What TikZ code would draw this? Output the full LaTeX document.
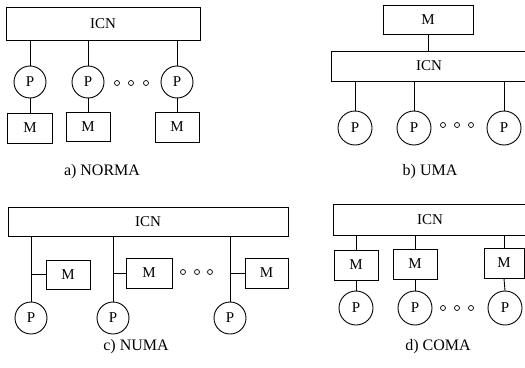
\documentclass[tikz,border=0pt]{standalone}
\usepackage{fontspec}
\setmainfont{Liberation Serif}
\begin{document}
\begin{tikzpicture}[x=1pt,y=-1pt,
  every node/.style={font=\fontsize{15}{17}\selectfont},
  bx/.style={draw, line width=0.9pt, inner sep=0pt},
  pc/.style={draw, circle, line width=0.9pt, inner sep=0pt, minimum size=32pt},
  dt/.style={draw, circle, line width=0.7pt, inner sep=0pt, minimum size=5pt},
  cn/.style={line width=0.9pt},
  lbl/.style={font=\fontsize{16}{18}\selectfont}]
\useasboundingbox (0,0) rectangle (525,367);
\clip (0,0) rectangle (525,367);
% ---------- a) NORMA
\node[bx, minimum width=194pt, minimum height=33pt] (icnA) at (103,23.5) {ICN};
\node[pc] (pA1) at (30,82) {P};
\node[pc] (pA2) at (88,82) {P};
\node[pc] (pA3) at (177,82) {P};
\node[bx, minimum width=45pt, minimum height=30pt] (mA1) at (30,128) {M};
\node[bx, minimum width=44pt, minimum height=29pt] (mA2) at (88,126.5) {M};
\node[bx, minimum width=44pt, minimum height=30pt] (mA3) at (177,127) {M};
\node[dt] (dA1) at (117,83) {};
\node[dt] (dA2) at (131,83) {};
\node[dt] (dA3) at (146,83) {};
\foreach \i in {1,2,3}{
  \draw[cn] (pA\i.north) -- (pA\i.north |- icnA.south);
  \draw[cn] (pA\i.south) -- (mA\i.north);
}
\node[lbl] (labA) at (102,172) {a) NORMA};
% ---------- b) UMA
\node[bx, minimum width=90pt, minimum height=29pt] (mB) at (428,19.5) {M};
\node[bx, minimum width=196pt, minimum height=30pt] (icnB) at (429,66) {ICN};
\node[pc, minimum size=34pt] (pB1) at (355,128) {P};
\node[pc, minimum size=34pt] (pB2) at (414,128) {P};
\node[pc, minimum size=34pt] (pB3) at (504,128) {P};
\node[dt] (dB1) at (443,125) {};
\node[dt] (dB2) at (457,125) {};
\node[dt] (dB3) at (471,125) {};
\draw[cn] (mB.south) -- (icnB.north -| mB.south);
\foreach \i in {1,2,3}{
  \draw[cn] (pB\i.north) -- (pB\i.north |- icnB.south);
}
\node[lbl] (labB) at (430,172) {b) UMA};
% ---------- c) NUMA
\node[bx, minimum width=280pt, minimum height=29pt] (icnC) at (148,221.5) {ICN};
\node[pc] (pC1) at (31,318) {P};
\node[pc] (pC2) at (113,318) {P};
\node[pc] (pC3) at (230,318) {P};
\node[bx, minimum width=44pt, minimum height=29pt] (mC1) at (68,274.5) {M};
\node[bx, minimum width=46pt, minimum height=30pt] (mC2) at (149,273) {M};
\node[bx, minimum width=43pt, minimum height=30pt] (mC3) at (266.5,273) {M};
\node[dt] (dC1) at (183,272) {};
\node[dt] (dC2) at (197,272) {};
\node[dt] (dC3) at (210,272) {};
\foreach \i in {1,2,3}{
  \draw[cn] (pC\i.north) -- (pC\i.north |- icnC.south);
  \draw[cn] (mC\i.west) -- (mC\i.west -| pC\i.north);
}
\node[lbl] (labC) at (136,347) {c) NUMA};
% ---------- d) COMA
\node[bx, minimum width=194pt, minimum height=31pt] (icnD) at (430,219.5) {ICN};
\node[bx, minimum width=44pt, minimum height=30pt] (mD1) at (356,265) {M};
\node[bx, minimum width=44pt, minimum height=30pt] (mD2) at (415,264) {M};
\node[bx, minimum width=40pt, minimum height=30pt] (mD3) at (504,263) {M};
\node[pc, minimum size=34pt] (pD1) at (356,308) {P};
\node[pc, minimum size=34pt] (pD2) at (415,308) {P};
\node[pc, minimum size=34pt] (pD3) at (505,308) {P};
\node[dt] (dD1) at (443,308) {};
\node[dt] (dD2) at (457,308) {};
\node[dt] (dD3) at (471,308) {};
\foreach \i in {1,2,3}{
  \draw[cn] (mD\i.north) -- (mD\i.north |- icnD.south);
  \draw[cn] (mD\i.south) -- (pD\i.north);
}
\node[lbl] (labD) at (438,347) {d) COMA};
\end{tikzpicture}
\end{document}
